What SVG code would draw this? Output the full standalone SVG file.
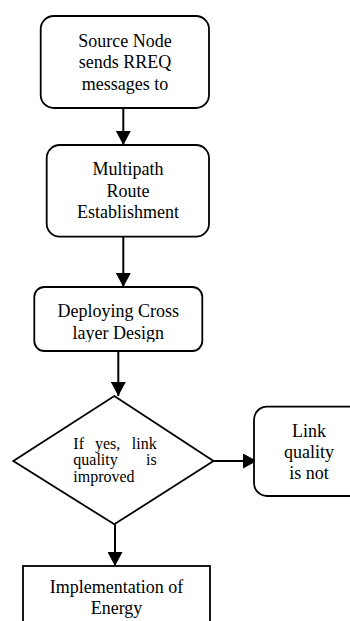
<svg xmlns="http://www.w3.org/2000/svg" width="350" height="621" viewBox="0 0 350 621">
<style>
.box{fill:#fff;stroke:#000;stroke-width:1.8}
.t{font-family:"Liberation Serif","Times New Roman",serif;font-size:18px;fill:#000;text-anchor:middle}
.dt{font-family:"Liberation Serif","Times New Roman",serif;font-size:16px;fill:#000}
.c{stroke:#000;stroke-width:2;fill:none}
</style>
<defs>
<marker id="ah" markerWidth="16" markerHeight="15" refX="14" refY="7.5" orient="auto" markerUnits="userSpaceOnUse">
<path d="M0,0 L14,7.5 L0,15 Z" fill="#000"/>
</marker>
<clipPath id="c3"><rect x="34" y="287" width="169" height="55"/></clipPath>
</defs>
<rect width="350" height="621" fill="#fff"/>
<g id="connectors">
<line class="c" x1="123.3" y1="108" x2="123.3" y2="145" marker-end="url(#ah)"/>
<line class="c" x1="123.3" y1="237" x2="123.3" y2="287" marker-end="url(#ah)"/>
<line class="c" x1="118.3" y1="351" x2="118.3" y2="396" marker-end="url(#ah)"/>
<line class="c" x1="213.5" y1="461" x2="257" y2="461" marker-end="url(#ah)"/>
<line class="c" x1="115" y1="524" x2="115" y2="566" marker-end="url(#ah)"/>
</g>
<g id="n1">
<rect class="box" x="40.7" y="16" width="168.3" height="92" rx="13"/>
<text class="t" x="125" y="46.7">Source Node</text>
<text class="t" x="125" y="68.2">sends RREQ</text>
<text class="t" x="125" y="89.5">messages to</text>
</g>
<g id="n2">
<rect class="box" x="46.7" y="145" width="162.3" height="91.7" rx="13"/>
<text class="t" x="128" y="175">Multipath</text>
<text class="t" x="128" y="196.6">Route</text>
<text class="t" x="128" y="218.3">Establishment</text>
</g>
<g id="n3">
<rect class="box" x="34.3" y="287" width="168" height="64" rx="10"/>
<g clip-path="url(#c3)">
<text class="t" x="118.3" y="316.5">Deploying Cross</text>
<text class="t" x="118.3" y="338.5">layer Design</text>
</g>
</g>
<g id="n4">
<polygon class="box" points="114.3,396 213.5,461 114.3,524.3 13.3,461" stroke-width="1.5"/>
<text class="dt" x="73.3" y="449.3">If</text>
<text class="dt" x="95" y="449.3">yes,</text>
<text class="dt" x="156.7" y="449.3" text-anchor="end">link</text>
<text class="dt" x="73.3" y="465.3">quality</text>
<text class="dt" x="156.7" y="465.3" text-anchor="end">is</text>
<text class="dt" x="73.3" y="481.7">improved</text>
</g>
<g id="n5">
<rect class="box" x="254" y="406.7" width="110" height="89.3" rx="13"/>
<text class="t" x="309" y="436.7">Link</text>
<text class="t" x="309" y="458">quality</text>
<text class="t" x="309" y="478.5">is not</text>
</g>
<g id="n6">
<rect class="box" x="23" y="566" width="187" height="70"/>
<text class="t" x="116.5" y="593.3">Implementation of</text>
<text class="t" x="116.5" y="613.5">Energy</text>
</g>
</svg>
